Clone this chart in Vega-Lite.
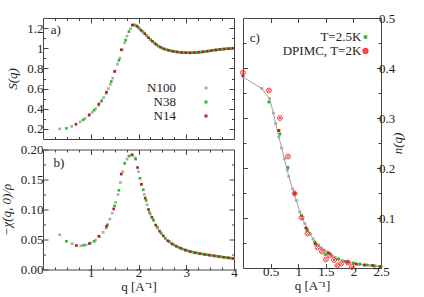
{
"$schema": "https://vega.github.io/schema/vega-lite/v6.json",
"padding": {"left": 0, "top": 11, "right": 0, "bottom": 0},
"spacing": 0,
"config": {
  "font": "Liberation Serif",
  "view": {"stroke": "#444", "strokeWidth": 1},
  "axis": {"domain": false, "grid": false, "labelFont": "Liberation Serif", "labelFontSize": 13, "labelColor": "#222", "titleFont": "Liberation Serif", "titleFontSize": 13, "titleFontWeight": "normal", "titleColor": "#222", "tickColor": "#444", "tickWidth": 1},
  "legend": {"labelFont": "Liberation Serif", "labelFontSize": 13, "labelColor": "#222", "padding": 0, "rowPadding": -1, "title": null},
  "text": {"font": "Liberation Serif", "fontSize": 13, "color": "#222"}
},
"datasets": {
  "sq": [
    {"s":"N100","q":0.35,"S":0.200},{"s":"N100","q":0.60,"S":0.225},{"s":"N100","q":0.78,"S":0.270},{"s":"N100","q":0.88,"S":0.303},{"s":"N100","q":0.96,"S":0.334},{"s":"N100","q":1.03,"S":0.364},{"s":"N100","q":1.10,"S":0.400},{"s":"N100","q":1.16,"S":0.435},{"s":"N100","q":1.22,"S":0.473},{"s":"N100","q":1.27,"S":0.511},{"s":"N100","q":1.32,"S":0.552},{"s":"N100","q":1.37,"S":0.600},{"s":"N100","q":1.41,"S":0.642},{"s":"N100","q":1.46,"S":0.703},{"s":"N100","q":1.51,"S":0.774},{"s":"N100","q":1.56,"S":0.842},{"s":"N100","q":1.61,"S":0.902},{"s":"N100","q":1.66,"S":0.984},{"s":"N100","q":1.71,"S":1.054},{"s":"N100","q":1.76,"S":1.120},{"s":"N100","q":1.83,"S":1.193},{"s":"N100","q":1.89,"S":1.228},{"s":"N100","q":1.95,"S":1.225},{"s":"N100","q":2.02,"S":1.196},{"s":"N100","q":2.10,"S":1.160},{"s":"N100","q":2.18,"S":1.120},{"s":"N100","q":2.26,"S":1.083},{"s":"N100","q":2.34,"S":1.049},{"s":"N100","q":2.42,"S":1.020},{"s":"N100","q":2.50,"S":1.000},{"s":"N100","q":2.58,"S":0.986},{"s":"N100","q":2.66,"S":0.976},{"s":"N100","q":2.74,"S":0.968},{"s":"N100","q":2.82,"S":0.962},{"s":"N100","q":2.90,"S":0.958},{"s":"N100","q":2.98,"S":0.956},{"s":"N100","q":3.06,"S":0.955},{"s":"N100","q":3.14,"S":0.956},{"s":"N100","q":3.22,"S":0.958},{"s":"N100","q":3.30,"S":0.962},{"s":"N100","q":3.38,"S":0.967},{"s":"N100","q":3.46,"S":0.972},{"s":"N100","q":3.54,"S":0.978},{"s":"N100","q":3.62,"S":0.983},{"s":"N100","q":3.70,"S":0.988},{"s":"N100","q":3.78,"S":0.992},{"s":"N100","q":3.86,"S":0.995},{"s":"N100","q":3.94,"S":0.998},
    {"s":"N38","q":0.49,"S":0.205},{"s":"N38","q":0.84,"S":0.290},{"s":"N38","q":1.07,"S":0.385},{"s":"N38","q":1.23,"S":0.480},{"s":"N38","q":1.43,"S":0.670},{"s":"N38","q":1.59,"S":0.880},{"s":"N38","q":1.73,"S":1.080},{"s":"N38","q":1.80,"S":1.165},{"s":"N38","q":1.91,"S":1.232},{"s":"N38","q":2.00,"S":1.205},{"s":"N38","q":2.08,"S":1.168},{"s":"N38","q":2.16,"S":1.130},{"s":"N38","q":2.25,"S":1.087},{"s":"N38","q":2.33,"S":1.053},{"s":"N38","q":2.41,"S":1.023},{"s":"N38","q":2.50,"S":1.000},{"s":"N38","q":2.59,"S":0.984},{"s":"N38","q":2.68,"S":0.974},{"s":"N38","q":2.77,"S":0.966},{"s":"N38","q":2.86,"S":0.960},{"s":"N38","q":2.95,"S":0.956},{"s":"N38","q":3.04,"S":0.955},{"s":"N38","q":3.13,"S":0.956},{"s":"N38","q":3.22,"S":0.958},{"s":"N38","q":3.31,"S":0.962},{"s":"N38","q":3.40,"S":0.968},{"s":"N38","q":3.49,"S":0.974},{"s":"N38","q":3.58,"S":0.981},{"s":"N38","q":3.67,"S":0.986},{"s":"N38","q":3.76,"S":0.991},{"s":"N38","q":3.85,"S":0.995},{"s":"N38","q":3.94,"S":0.998},
    {"s":"N14","q":0.69,"S":0.246},{"s":"N14","q":0.97,"S":0.340},{"s":"N14","q":1.17,"S":0.447},{"s":"N14","q":1.33,"S":0.565},{"s":"N14","q":1.50,"S":0.770},{"s":"N14","q":1.64,"S":0.985},{"s":"N14","q":1.87,"S":1.230},{"s":"N14","q":1.97,"S":1.218},{"s":"N14","q":2.05,"S":1.180},{"s":"N14","q":2.13,"S":1.145},{"s":"N14","q":2.21,"S":1.105},{"s":"N14","q":2.29,"S":1.069},{"s":"N14","q":2.37,"S":1.038},{"s":"N14","q":2.46,"S":1.010},{"s":"N14","q":2.54,"S":0.993},{"s":"N14","q":2.63,"S":0.980},{"s":"N14","q":2.72,"S":0.970},{"s":"N14","q":2.81,"S":0.963},{"s":"N14","q":2.90,"S":0.958},{"s":"N14","q":2.99,"S":0.956},{"s":"N14","q":3.08,"S":0.955},{"s":"N14","q":3.17,"S":0.956},{"s":"N14","q":3.26,"S":0.960},{"s":"N14","q":3.35,"S":0.965},{"s":"N14","q":3.44,"S":0.970},{"s":"N14","q":3.53,"S":0.977},{"s":"N14","q":3.62,"S":0.983},{"s":"N14","q":3.71,"S":0.988},{"s":"N14","q":3.80,"S":0.993},{"s":"N14","q":3.89,"S":0.996},{"s":"N14","q":3.98,"S":0.999}
  ],
  "chi": [
    {"s":"N100","q":0.35,"v":0.058},{"s":"N100","q":0.61,"v":0.043},{"s":"N100","q":0.79,"v":0.0395},{"s":"N100","q":0.90,"v":0.041},{"s":"N100","q":1.00,"v":0.044},{"s":"N100","q":1.10,"v":0.049},{"s":"N100","q":1.18,"v":0.055},{"s":"N100","q":1.26,"v":0.062},{"s":"N100","q":1.32,"v":0.069},{"s":"N100","q":1.40,"v":0.084},{"s":"N100","q":1.45,"v":0.094},{"s":"N100","q":1.52,"v":0.112},{"s":"N100","q":1.57,"v":0.125},{"s":"N100","q":1.62,"v":0.145},{"s":"N100","q":1.67,"v":0.163},{"s":"N100","q":1.76,"v":0.184},{"s":"N100","q":1.85,"v":0.191},{"s":"N100","q":1.93,"v":0.186},{"s":"N100","q":2.00,"v":0.163},{"s":"N100","q":2.06,"v":0.142},{"s":"N100","q":2.12,"v":0.125},{"s":"N100","q":2.18,"v":0.108},{"s":"N100","q":2.25,"v":0.092},{"s":"N100","q":2.32,"v":0.081},{"s":"N100","q":2.40,"v":0.069},{"s":"N100","q":2.48,"v":0.0595},{"s":"N100","q":2.56,"v":0.052},{"s":"N100","q":2.64,"v":0.047},{"s":"N100","q":2.72,"v":0.0417},{"s":"N100","q":2.80,"v":0.038},{"s":"N100","q":2.90,"v":0.035},{"s":"N100","q":3.00,"v":0.032},{"s":"N100","q":3.10,"v":0.0295},{"s":"N100","q":3.20,"v":0.0278},{"s":"N100","q":3.30,"v":0.0262},{"s":"N100","q":3.40,"v":0.025},{"s":"N100","q":3.50,"v":0.0238},{"s":"N100","q":3.60,"v":0.0225},{"s":"N100","q":3.70,"v":0.0214},{"s":"N100","q":3.80,"v":0.0203},{"s":"N100","q":3.90,"v":0.0193},{"s":"N100","q":3.99,"v":0.0183},
    {"s":"N38","q":0.49,"v":0.047},{"s":"N38","q":0.85,"v":0.0405},{"s":"N38","q":1.07,"v":0.047},{"s":"N38","q":1.35,"v":0.0745},{"s":"N38","q":1.50,"v":0.106},{"s":"N38","q":1.59,"v":0.132},{"s":"N38","q":1.71,"v":0.177},{"s":"N38","q":1.80,"v":0.189},{"s":"N38","q":1.94,"v":0.184},{"s":"N38","q":2.03,"v":0.152},{"s":"N38","q":2.10,"v":0.133},{"s":"N38","q":2.16,"v":0.115},{"s":"N38","q":2.23,"v":0.095},{"s":"N38","q":2.31,"v":0.083},{"s":"N38","q":2.39,"v":0.071},{"s":"N38","q":2.47,"v":0.061},{"s":"N38","q":2.56,"v":0.052},{"s":"N38","q":2.65,"v":0.046},{"s":"N38","q":2.74,"v":0.041},{"s":"N38","q":2.84,"v":0.037},{"s":"N38","q":2.93,"v":0.034},{"s":"N38","q":3.03,"v":0.031},{"s":"N38","q":3.13,"v":0.029},{"s":"N38","q":3.23,"v":0.0275},{"s":"N38","q":3.33,"v":0.026},{"s":"N38","q":3.43,"v":0.0247},{"s":"N38","q":3.53,"v":0.0235},{"s":"N38","q":3.63,"v":0.0222},{"s":"N38","q":3.73,"v":0.0211},{"s":"N38","q":3.83,"v":0.0200},{"s":"N38","q":3.93,"v":0.0189},
    {"s":"N14","q":0.70,"v":0.040},{"s":"N14","q":0.97,"v":0.0433},{"s":"N14","q":1.17,"v":0.0555},{"s":"N14","q":1.33,"v":0.072},{"s":"N14","q":1.48,"v":0.101},{"s":"N14","q":1.64,"v":0.159},{"s":"N14","q":1.87,"v":0.191},{"s":"N14","q":1.98,"v":0.170},{"s":"N14","q":2.06,"v":0.142},{"s":"N14","q":2.14,"v":0.119},{"s":"N14","q":2.21,"v":0.100},{"s":"N14","q":2.28,"v":0.087},{"s":"N14","q":2.36,"v":0.074},{"s":"N14","q":2.44,"v":0.064},{"s":"N14","q":2.52,"v":0.056},{"s":"N14","q":2.61,"v":0.048},{"s":"N14","q":2.70,"v":0.043},{"s":"N14","q":2.79,"v":0.039},{"s":"N14","q":2.88,"v":0.0355},{"s":"N14","q":2.98,"v":0.0325},{"s":"N14","q":3.08,"v":0.030},{"s":"N14","q":3.18,"v":0.028},{"s":"N14","q":3.28,"v":0.0265},{"s":"N14","q":3.38,"v":0.0252},{"s":"N14","q":3.48,"v":0.024},{"s":"N14","q":3.58,"v":0.0228},{"s":"N14","q":3.68,"v":0.0217},{"s":"N14","q":3.78,"v":0.0205},{"s":"N14","q":3.88,"v":0.0195},{"s":"N14","q":3.98,"v":0.0185}
  ],
  "nq": [
    {"s":"grey","q":0.00,"n":0.382},{"s":"grey","q":0.34,"n":0.359},{"s":"grey","q":0.48,"n":0.339},{"s":"grey","q":0.55,"n":0.310},{"s":"grey","q":0.59,"n":0.289},{"s":"grey","q":0.65,"n":0.262},{"s":"grey","q":0.70,"n":0.240},{"s":"grey","q":0.75,"n":0.218},{"s":"grey","q":0.80,"n":0.196},{"s":"grey","q":0.83,"n":0.183},{"s":"grey","q":0.90,"n":0.158},{"s":"grey","q":0.965,"n":0.135},{"s":"grey","q":1.03,"n":0.112},{"s":"grey","q":1.08,"n":0.098},{"s":"grey","q":1.12,"n":0.089},{"s":"grey","q":1.17,"n":0.078},{"s":"grey","q":1.22,"n":0.068},{"s":"grey","q":1.27,"n":0.058},{"s":"grey","q":1.32,"n":0.050},{"s":"grey","q":1.37,"n":0.046},{"s":"grey","q":1.42,"n":0.040},{"s":"grey","q":1.47,"n":0.036},{"s":"grey","q":1.52,"n":0.032},{"s":"grey","q":1.57,"n":0.028},{"s":"grey","q":1.62,"n":0.024},{"s":"grey","q":1.67,"n":0.021},{"s":"grey","q":1.72,"n":0.018},{"s":"grey","q":1.80,"n":0.015},{"s":"grey","q":1.90,"n":0.012},{"s":"grey","q":2.00,"n":0.009},{"s":"grey","q":2.10,"n":0.007},{"s":"grey","q":2.20,"n":0.006},{"s":"grey","q":2.30,"n":0.005},{"s":"grey","q":2.40,"n":0.004},{"s":"grey","q":2.50,"n":0.003},
    {"s":"T=2.5K","q":0.47,"n":0.332},{"s":"T=2.5K","q":0.67,"n":0.268},{"s":"T=2.5K","q":0.815,"n":0.201},{"s":"T=2.5K","q":0.94,"n":0.148},{"s":"T=2.5K","q":1.06,"n":0.105},{"s":"T=2.5K","q":1.16,"n":0.075},{"s":"T=2.5K","q":1.30,"n":0.052},{"s":"T=2.5K","q":1.49,"n":0.027},{"s":"T=2.5K","q":1.58,"n":0.028},{"s":"T=2.5K","q":1.73,"n":0.018},{"s":"T=2.5K","q":1.85,"n":0.013},{"s":"T=2.5K","q":2.00,"n":0.010},{"s":"T=2.5K","q":2.12,"n":0.008},{"s":"T=2.5K","q":2.25,"n":0.006},{"s":"T=2.5K","q":2.38,"n":0.004},{"s":"T=2.5K","q":2.50,"n":0.003},
    {"s":"dred","q":0.00,"n":0.385},{"s":"dred","q":0.65,"n":0.275},{"s":"dred","q":0.94,"n":0.150},{"s":"dred","q":1.14,"n":0.080},{"s":"dred","q":1.31,"n":0.048},{"s":"dred","q":1.55,"n":0.030},{"s":"dred","q":1.90,"n":0.012},{"s":"dred","q":2.05,"n":0.008},{"s":"dred","q":2.20,"n":0.006},{"s":"dred","q":2.35,"n":0.005},{"s":"dred","q":2.48,"n":0.003},
    {"s":"DPIMC, T=2K","q":0.00,"n":0.391},{"s":"DPIMC, T=2K","q":0.47,"n":0.355},{"s":"DPIMC, T=2K","q":0.67,"n":0.300},{"s":"DPIMC, T=2K","q":0.815,"n":0.223},{"s":"DPIMC, T=2K","q":0.935,"n":0.149},{"s":"DPIMC, T=2K","q":1.06,"n":0.101},{"s":"DPIMC, T=2K","q":1.17,"n":0.069},{"s":"DPIMC, T=2K","q":1.35,"n":0.041},{"s":"DPIMC, T=2K","q":1.43,"n":0.033},{"s":"DPIMC, T=2K","q":1.50,"n":0.017},{"s":"DPIMC, T=2K","q":1.57,"n":0.025},{"s":"DPIMC, T=2K","q":1.65,"n":0.016},{"s":"DPIMC, T=2K","q":1.71,"n":0.005},{"s":"DPIMC, T=2K","q":1.78,"n":0.009},{"s":"DPIMC, T=2K","q":1.90,"n":0.011},{"s":"DPIMC, T=2K","q":1.97,"n":0.002}
  ],
  "labA": [{"t":"a)","q":0.27,"S":1.177}],
  "labB": [{"t":"b)","q":0.335,"v":0.178}],
  "labC": [{"t":"c)","q":0.215,"n":0.461}]
},
"hconcat": [
  {
    "spacing": 2.5,
    "vconcat": [
      {
        "width": 191, "height": 121,
        "resolve": {"axis": {"x": "independent", "y": "independent"}},
        "layer": [
          {
            "data": {"name": "sq"},
            "mark": {"type": "point", "filled": true, "shape": "square", "size": 7, "opacity": 1},
            "encoding": {
              "x": {"field": "q", "type": "quantitative", "scale": {"domain": [0, 4], "nice": false, "zero": false},
                "axis": {"orient": "bottom", "title": null, "labels": false, "values": [0.25,0.5,0.75,1,1.25,1.5,1.75,2,2.25,2.5,2.75,3,3.25,3.5,3.75],
                  "tickSize": {"condition": {"test": "abs(datum.value - round(datum.value)) < 0.001", "value": -5}, "value": -2.5}}},
              "y": {"field": "S", "type": "quantitative", "scale": {"domain": [0.1, 1.3], "nice": false, "zero": false},
                "axis": {"orient": "left", "title": "S(q)", "titleFontStyle": "italic", "values": [0.2,0.3,0.4,0.5,0.6,0.7,0.8,0.9,1,1.1,1.2], "format": "~g",
                  "labelExpr": "abs(datum.value*5 - round(datum.value*5)) < 0.001 ? datum.label : ''",
                  "tickSize": {"condition": {"test": "abs(datum.value*5 - round(datum.value*5)) < 0.001", "value": -5}, "value": -2.5},
                  "labelPadding": 5, "minExtent": 27, "maxExtent": 27, "titlePadding": -3.5}},
              "color": {"field": "s", "type": "nominal", "scale": {"domain": ["N100","N38","N14"], "range": ["#aaaaaa","#22c022","#b22222"]},
                "legend": {"orient": "none", "legendX": 156.5, "legendY": 63.5, "labelAlign": "right", "labelOffset": -36.5, "symbolType": "square", "symbolSize": 9, "symbolStrokeWidth": 0}}
            }
          },
          {
            "data": {"name": "sq"},
            "mark": {"type": "point", "opacity": 0},
            "encoding": {
              "x": {"field": "q", "type": "quantitative", "axis": {"orient": "top", "title": null, "labels": false, "values": [0.25,0.5,0.75,1,1.25,1.5,1.75,2,2.25,2.5,2.75,3,3.25,3.5,3.75],
                  "tickSize": {"condition": {"test": "abs(datum.value - round(datum.value)) < 0.001", "value": -5}, "value": -2.5}}},
              "y": {"field": "S", "type": "quantitative", "axis": {"orient": "right", "title": null, "labels": false, "values": [0.2,0.3,0.4,0.5,0.6,0.7,0.8,0.9,1,1.1,1.2],
                  "tickSize": {"condition": {"test": "abs(datum.value*5 - round(datum.value*5)) < 0.001", "value": -5}, "value": -2.5}}}
            }
          },
          {
            "data": {"name": "labA"},
            "mark": {"type": "text", "align": "center", "baseline": "middle"},
            "encoding": {
              "x": {"field": "q", "type": "quantitative", "axis": null},
              "y": {"field": "S", "type": "quantitative", "axis": null},
              "text": {"field": "t"}
            }
          }
        ]
      },
      {
        "width": 191, "height": 120,
        "resolve": {"axis": {"x": "independent", "y": "independent"}},
        "layer": [
          {
            "data": {"name": "chi"},
            "mark": {"type": "point", "filled": true, "shape": "square", "size": 7, "opacity": 1},
            "encoding": {
              "x": {"field": "q", "type": "quantitative", "scale": {"domain": [0, 4], "nice": false, "zero": false},
                "axis": {"orient": "bottom", "title": "q [A⁻¹]", "values": [0.25,0.5,0.75,1,1.25,1.5,1.75,2,2.25,2.5,2.75,3,3.25,3.5,3.75,4], "format": "~g", "labelFlush": false,
                  "labelExpr": "abs(datum.value - round(datum.value)) < 0.001 ? datum.label : ''",
                  "tickSize": {"condition": {"test": "abs(datum.value - round(datum.value)) < 0.001", "value": -5}, "value": -2.5},
                  "labelPadding": 2, "titlePadding": 1}},
              "y": {"field": "v", "type": "quantitative", "scale": {"domain": [0, 0.2], "nice": false, "zero": false},
                "axis": {"orient": "left", "title": "−χ(q, 0)/ρ", "titleFontStyle": "italic", "values": [0,0.025,0.05,0.075,0.1,0.125,0.15,0.175,0.2], "format": ".2f",
                  "labelExpr": "abs(datum.value*20 - round(datum.value*20)) < 0.001 ? datum.label : ''",
                  "tickSize": {"condition": {"test": "abs(datum.value*20 - round(datum.value*20)) < 0.001", "value": -5}, "value": -2.5},
                  "labelPadding": 5, "minExtent": 27, "maxExtent": 27, "titlePadding": 2.5}},
              "color": {"field": "s", "type": "nominal", "scale": {"domain": ["N100","N38","N14"], "range": ["#aaaaaa","#22c022","#b22222"]}, "legend": null}
            }
          },
          {
            "data": {"name": "chi"},
            "mark": {"type": "point", "opacity": 0},
            "encoding": {
              "x": {"field": "q", "type": "quantitative", "axis": {"orient": "top", "title": null, "labels": false, "values": [0.25,0.5,0.75,1,1.25,1.5,1.75,2,2.25,2.5,2.75,3,3.25,3.5,3.75],
                  "tickSize": {"condition": {"test": "abs(datum.value - round(datum.value)) < 0.001", "value": -5}, "value": -2.5}}},
              "y": {"field": "v", "type": "quantitative", "axis": {"orient": "right", "title": null, "labels": false, "values": [0.025,0.05,0.075,0.1,0.125,0.15,0.175],
                  "tickSize": {"condition": {"test": "abs(datum.value*20 - round(datum.value*20)) < 0.001", "value": -5}, "value": -2.5}}}
            }
          },
          {
            "data": {"name": "labB"},
            "mark": {"type": "text", "align": "center", "baseline": "middle"},
            "encoding": {
              "x": {"field": "q", "type": "quantitative", "axis": null},
              "y": {"field": "v", "type": "quantitative", "axis": null},
              "text": {"field": "t"}
            }
          }
        ]
      }
    ]
  },
  {
    "width": 138, "height": 250,
    "resolve": {"axis": {"x": "independent", "y": "independent"}},
    "layer": [
      {
        "data": {"name": "nq"},
        "transform": [{"filter": "datum.s == 'grey'"}],
        "mark": {"type": "line", "color": "#a0a0a0", "strokeWidth": 1},
        "encoding": {
          "x": {"field": "q", "type": "quantitative", "scale": {"domain": [0, 2.5], "nice": false, "zero": false}, "axis": null},
          "y": {"field": "n", "type": "quantitative", "scale": {"domain": [0, 0.5], "nice": false, "zero": false}, "axis": null}
        }
      },
      {
        "data": {"name": "nq"},
        "mark": {"type": "point", "filled": true, "strokeWidth": 1, "opacity": 1},
        "encoding": {
          "x": {"field": "q", "type": "quantitative",
            "axis": {"orient": "bottom", "title": "q [A⁻¹]", "values": [0.5,1,1.5,2,2.5], "format": "~g", "labelFlush": false, "tickSize": -4.5, "labelPadding": 2, "titlePadding": 1}},
          "y": {"field": "n", "type": "quantitative",
            "axis": {"orient": "right", "title": "n(q)", "titleFontStyle": "italic", "titleAngle": 270, "titleBaseline": "top", "values": [0.05,0.1,0.15,0.2,0.25,0.3,0.35,0.4,0.45,0.5], "format": ".1f",
              "labelExpr": "abs(datum.value*10 - round(datum.value*10)) < 0.001 ? datum.label : ''",
              "tickSize": {"condition": {"test": "abs(datum.value*10 - round(datum.value*10)) < 0.001", "value": -4.5}, "value": -3},
              "labelPadding": 2, "titlePadding": -3}},
          "fill": {"field": "s", "type": "nominal", "scale": {"domain": ["T=2.5K","DPIMC, T=2K","grey","dred"], "range": ["#22c022","transparent","#aaaaaa","#b22222"]},
            "legend": {"orient": "none", "legendX": 316, "legendY": 12.5, "labelAlign": "right", "labelOffset": -10.7, "values": ["T=2.5K","DPIMC, T=2K"]}},
          "stroke": {"field": "s", "type": "nominal", "scale": {"domain": ["T=2.5K","DPIMC, T=2K","grey","dred"], "range": ["#22c022","#ff3030","#aaaaaa","#b22222"]}},
          "shape": {"field": "s", "type": "nominal", "scale": {"domain": ["T=2.5K","DPIMC, T=2K","grey","dred"], "range": ["square","M1,0A1,1,0,1,1,-1,0A1,1,0,1,1,1,0M-0.6,-0.6L0.6,0.6M0.6,-0.6L-0.6,0.6","square","square"]}},
          "size": {"field": "s", "type": "nominal", "scale": {"type": "ordinal", "domain": ["T=2.5K","DPIMC, T=2K","grey","dred"], "range": [4,23,4,4]}}
        }
      },
      {
        "data": {"name": "nq"},
        "mark": {"type": "point", "opacity": 0},
        "encoding": {
          "x": {"field": "q", "type": "quantitative", "axis": {"orient": "top", "title": null, "labels": false, "values": [0.5,1,1.5,2], "tickSize": -4.5}},
          "y": {"field": "n", "type": "quantitative", "axis": {"orient": "left", "title": null, "labels": false, "values": [0.05,0.1,0.15,0.2,0.25,0.3,0.35,0.4,0.45],
              "tickSize": {"condition": {"test": "abs(datum.value*10 - round(datum.value*10)) < 0.001", "value": -4.5}, "value": -3}}}
        }
      },
      {
        "data": {"name": "labC"},
        "mark": {"type": "text", "align": "center", "baseline": "middle"},
        "encoding": {
          "x": {"field": "q", "type": "quantitative", "axis": null},
          "y": {"field": "n", "type": "quantitative", "axis": null},
          "text": {"field": "t"}
        }
      }
    ]
  }
]
}
